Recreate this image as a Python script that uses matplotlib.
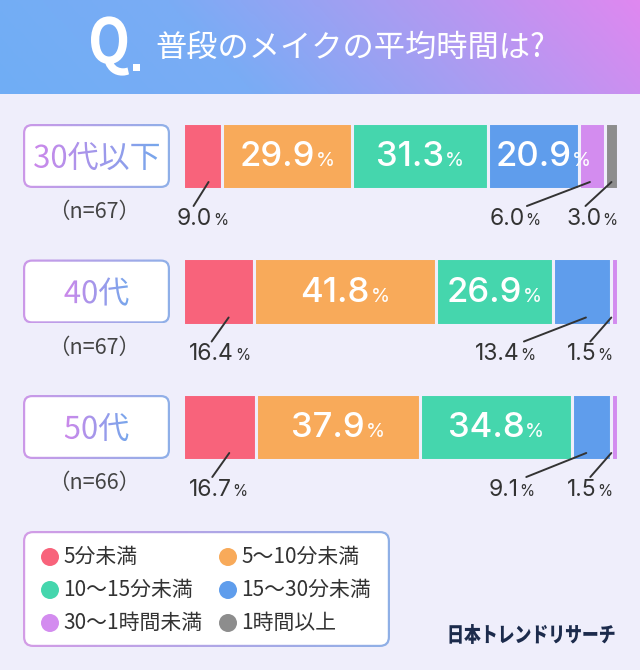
import numpy as np
import matplotlib
matplotlib.use("Agg")
import matplotlib.pyplot as plt
import matplotlib.transforms as mtransforms
from matplotlib.patches import FancyBboxPatch, Circle, PathPatch, Rectangle
from matplotlib.textpath import TextPath
from matplotlib.font_manager import FontProperties
from matplotlib.colors import LinearSegmentedColormap
from matplotlib.offsetbox import TextArea, HPacker, AnnotationBbox

plt.rcParams['font.family'] = ['Noto Sans CJK JP', 'DejaVu Sans']
num_font = ['Inter', 'Noto Sans CJK JP']

#######################################
# data

title = "普段のメイクの平均時間は?"
groups = ["30代以下", "40代", "50代"]
sample_sizes = [67, 67, 66]
categories = ["5分未満", "5～10分未満", "10～15分未満",
              "15～30分未満", "30～1時間未満", "1時間以上"]
share_30s_under = [9.0, 29.9, 31.3, 20.9, 6.0, 3.0]
share_40s = [16.4, 41.8, 26.9, 13.4, 1.5, 0.0]
share_50s = [16.7, 37.9, 34.8, 9.1, 1.5, 0.0]
shares = np.array([share_30s_under, share_40s, share_50s])
source = "日本トレンドリサーチ"

#######################################
# styles

colors = ["#f8637b", "#f8aa5a", "#45d6ad", "#5f9dec", "#d38cef", "#8d8d8d"]
bg_color = "#efeefb"
dark = "#333333"
W, H = 640, 670

# outside labels: (row, segment) -> label dx, line top dx, line bottom dx  (pixels)
outside_layout = {
    (0, 0): (0, 6, -9), (0, 4): (-77, -2, -65), (0, 5): (-20, 0, -26),
    (1, 0): (1, 10, -7), (1, 3): (-77, 4, -58), (1, 4): (-25, -3, -24),
    (2, 0): (-1, 10, -7), (2, 3): (-80, -5, -65), (2, 4): (-25, -3, -24),
}
inside_threshold = 20

fig = plt.figure(figsize=(W / 100, H / 100), dpi=100)
fig.patch.set_facecolor(bg_color)

# background axes in pixel units (y up)
bg = fig.add_axes([0, 0, 1, 1])
bg.set_xlim(0, W)
bg.set_ylim(0, H)
bg.axis("off")


def img_y(y):
    return H - y


def gradient_image(ax, extent, c0, c1, clip=None, diag=0.0, stops=None, zorder=1):
    nx, ny = 256, 32
    gx = np.linspace(0, 1, nx)
    gy = np.linspace(0, 1, ny)[:, None]
    t = np.clip(gx * (1 - diag) + gy * diag, 0, 1)
    if stops is None:
        cmap = LinearSegmentedColormap.from_list("g", [c0, c1])
    else:
        cmap = LinearSegmentedColormap.from_list("g", stops)
    im = ax.imshow(t, cmap=cmap, extent=extent, origin="lower", aspect="auto",
                   interpolation="bilinear", zorder=zorder)
    if clip is not None:
        im.set_clip_path(clip)
    return im


def gradient_box(ax, x0, y0_img, x1, y1_img, c0, c1, r=9, lw=2.2):
    yb, yt = img_y(y1_img), img_y(y0_img)
    outer = FancyBboxPatch((x0, yb), x1 - x0, yt - yb,
                           boxstyle=f"round,pad=0,rounding_size={r}",
                           facecolor="none", edgecolor="none")
    ax.add_patch(outer)
    gradient_image(ax, [x0, x1, yb, yt], c0, c1, clip=outer, zorder=2)
    inner = FancyBboxPatch((x0 + lw, yb + lw), x1 - x0 - 2 * lw, yt - yb - 2 * lw,
                           boxstyle=f"round,pad=0,rounding_size={r - lw}",
                           facecolor="white", edgecolor="none", zorder=3)
    ax.add_patch(inner)


def path_text(ax, s, cx, cy_img, size, width=None, weight="medium", family="Noto Sans CJK JP",
              c0=None, c1=None, color=None, zorder=5):
    fp = FontProperties(family=family, weight=weight)
    tp = TextPath((0, 0), s, size=size, prop=fp)
    ext = tp.get_extents()
    sx = 1.0 if width is None else width / ext.width
    tr = (mtransforms.Affine2D().translate(-ext.x0 - ext.width / 2, -ext.y0 - ext.height / 2)
          .scale(sx, 1).translate(cx, img_y(cy_img)))
    path = tr.transform_path(tp)
    pe = path.get_extents()
    if color is not None:
        ax.add_patch(PathPatch(path, facecolor=color, edgecolor="none", zorder=zorder))
    else:
        patch = PathPatch(path, facecolor="none", edgecolor="none")
        ax.add_patch(patch)
        gradient_image(ax, [pe.x0, pe.x1, pe.y0, pe.y1], c0, c1, clip=patch, zorder=zorder)


def pct_label(num, color, size, pct_size, weight="regular", sep=0.5):
    return HPacker(children=[
        TextArea(num, textprops=dict(color=color, fontsize=size, fontweight=weight,
                                     family=num_font)),
        TextArea("%", textprops=dict(color=color, fontsize=pct_size, family=num_font))],
        align="baseline", pad=0, sep=sep)


# header
header_h = 94
gradient_image(bg, [0, W, img_y(header_h), H], None, None, diag=0.12,
               stops=[(0, "#70aef5"), (0.35, "#7aacf5"), (0.65, "#a89df2"), (1, "#df88f0")],
               zorder=1)
path_text(bg, "Q", 110, 46, size=62, width=38, weight="bold", color="white")
bg.add_patch(Rectangle((133, img_y(71)), 7, 7, facecolor="white", edgecolor="none", zorder=5))
bg.text(155, img_y(48), title, color="white", fontsize=22.5, ha="left", va="center", zorder=5)

#######################################
# bars

row_top_px = 124
pitch = 135.5
bar_px = 64
n_rows = len(groups)
half = bar_px / 2 / pitch
axes_h_px = (n_rows - 1) * pitch + bar_px
bar_left, bar_right = 183, 618

ax = fig.add_axes([bar_left / W, (H - row_top_px - axes_h_px) / H,
                   (bar_right - bar_left) / W, axes_h_px / H])
ax.set_facecolor("none")
ax.set_xlim(0, shares.sum(axis=1).max())
ax.set_ylim(n_rows - 1 + half, -half)
ax.axis("off")

bar_h = 2 * half + 2.5 / pitch
for i in range(n_rows):
    lefts = np.concatenate([[0], np.cumsum(shares[i])[:-1]])
    for j, v in enumerate(shares[i]):
        if v <= 0:
            continue
        ax.barh(i, v, left=lefts[j], height=bar_h, color=colors[j],
                edgecolor=bg_color, linewidth=2.2)
        cx = lefts[j] + v / 2
        num = f"{v:.1f}"
        if v >= inside_threshold:
            nudge = 10 if j == 3 else 0
            box = pct_label(num, "white", 25, 14, weight="medium")
            ab = AnnotationBbox(box, (cx, i), xybox=(nudge, -1), xycoords="data",
                                boxcoords="offset pixels", frameon=False,
                                box_alignment=(0.5, 0.5), annotation_clip=False)
            ax.add_artist(ab)
        else:
            ldx, tdx, bdx = outside_layout[(i, j)]
            yb = i + half
            p0 = mtransforms.offset_copy(ax.transData, fig=fig, x=tdx, y=6, units="dots")
            ax.annotate("", xy=(cx, yb), xycoords=p0, xytext=(bdx - tdx, -24),
                        textcoords="offset pixels", annotation_clip=False,
                        arrowprops=dict(arrowstyle="-", lw=1.4, color=dark,
                                        shrinkA=0, shrinkB=0))
            box = pct_label(num, dark, 16.5, 11)
            ab = AnnotationBbox(box, (cx, yb), xybox=(ldx, -31), xycoords="data",
                                boxcoords="offset pixels", frameon=False,
                                box_alignment=(0.5, 0.5), annotation_clip=False)
            ax.add_artist(ab)

# group label boxes
for i, g in enumerate(groups):
    top = row_top_px + i * pitch
    gradient_box(bg, 23, top, 170, top + bar_px, "#cc98e8", "#8fb0e8", r=9, lw=2.2)
    path_text(bg, g, 96.5, top + bar_px / 2, size=31, weight="regular",
              c0="#cc88ea", c1="#77a7ec")
    bg.text(94, img_y(top + bar_px / 2 + 56), f"（n={sample_sizes[i]}）", color="#444444",
            fontsize=15.5, ha="center", va="center", zorder=5)

#######################################
# legend

gradient_box(bg, 23, 531, 390, 647, "#d39ce6", "#8fb0e6", r=10, lw=2.2)
leg_cols = [50, 228]
leg_rows = [557, 590, 623]
for k, (lab, col) in enumerate(zip(categories, colors)):
    x = leg_cols[k % 2]
    y = leg_rows[k // 2]
    bg.add_patch(Circle((x, img_y(y)), 9, facecolor=col, edgecolor="none", zorder=5))
    bg.text(x + 13, img_y(y), lab, color=dark, fontsize=15, ha="left", va="center", zorder=5)

# source logo
path_text(bg, source, 532, 634, size=21, width=165, weight="black", color="#1c2b4c")

fig.savefig("out.png", dpi=100, facecolor=fig.get_facecolor())
